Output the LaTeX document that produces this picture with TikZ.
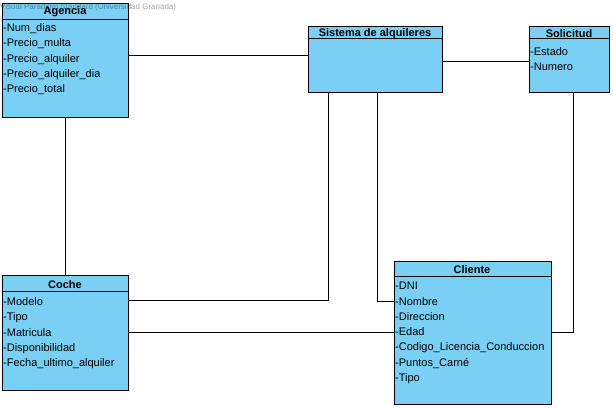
\documentclass[tikz,border=0pt]{standalone}
\usepackage{fontspec}
\setmainfont{Liberation Sans}
\usetikzlibrary{positioning}
\definecolor{vpblue}{RGB}{122,207,245}
\tikzset{
  clase/.style={draw, fill=vpblue, line width=0.9pt, anchor=north west, inner sep=0pt},
  titulo/.style={font=\fontsize{11}{13}\selectfont\bfseries, inner sep=0pt},
  attrs/.style={font=\fontsize{11}{15.25}\selectfont, align=left, anchor=north west, inner sep=0pt},
  enlace/.style={line width=0.9pt}
}

\begin{document}
\begin{tikzpicture}[x=1pt,y=-1pt]
\useasboundingbox (0,0) rectangle (613,408);
% clases
\node[clase, minimum width=126pt, minimum height=114pt] (agencia) at (2,3) {};
\node[clase, minimum width=134pt, minimum height=66pt] (sistema) at (308,26) {};
\node[clase, minimum width=80pt, minimum height=66pt] (solicitud) at (529,26) {};
\node[clase, minimum width=126pt, minimum height=115pt] (coche) at (2,275) {};
\node[clase, minimum width=157pt, minimum height=143pt] (cliente) at (394,261) {};
% cabeceras
\draw[enlace] (agencia.west |- 0,19) -- (agencia.east |- 0,19);
\draw[enlace] (sistema.west |- 0,38) -- (sistema.east |- 0,38);
\draw[enlace] (solicitud.west |- 0,38) -- (solicitud.east |- 0,38);
\draw[enlace] (coche.west |- 0,291) -- (coche.east |- 0,291);
\draw[enlace] (cliente.west |- 0,276) -- (cliente.east |- 0,276);
\node[titulo] (agencia-t) at (65,12) {Agencia};
\node[titulo] (sistema-t) at (375,34) {Sistema de alquileres};
\node[titulo] (solicitud-t) at (569,34) {Solicitud};
\node[titulo] (coche-t) at (65,285) {Coche};
\node[titulo] (cliente-t) at (472,270) {Cliente};
% atributos
\node[attrs] (agencia-a) at (3,23.5) {-Num\_dias\\-Precio\_multa\\-Precio\_alquiler\\-Precio\_alquiler\_dia\\-Precio\_total};
\node[attrs] (solicitud-a) at (530,47.5) {-Estado\\-Numero};
\node[attrs] (coche-a) at (3,297.5) {-Modelo\\-Tipo\\-Matricula\\-Disponibilidad\\-Fecha\_ultimo\_alquiler};
\node[attrs] (cliente-a) at (395,282) {-DNI\\-Nombre\\-Direccion\\-Edad\\-Codigo\_Licencia\_Conduccion\\-Puntos\_Carné\\-Tipo};
% relaciones
\draw[enlace] (agencia.east |- 0,55) -- (sistema.west |- 0,55);
\draw[enlace] (sistema.east |- 0,61) -- (solicitud.west |- 0,61);
\draw[enlace] (agencia.south) -- (coche.north);
\draw[enlace] (sistema.south -| 328,0) |- (coche.east |- 0,300);
\draw[enlace] (sistema.south -| 377,0) |- (cliente.west |- 0,301);
\draw[enlace] (coche.east |- 0,332) -- (cliente.west |- 0,332);
\draw[enlace] (solicitud.south -| 573,0) |- (cliente.east |- 0,332);
% marca de agua
\node[anchor=west, font=\fontsize{8}{9}\selectfont, opacity=0.35, inner sep=0pt] (marca) at (0,7) {Visual Paradigm Standard (Universidad Granada)};
\end{tikzpicture}
\end{document}
